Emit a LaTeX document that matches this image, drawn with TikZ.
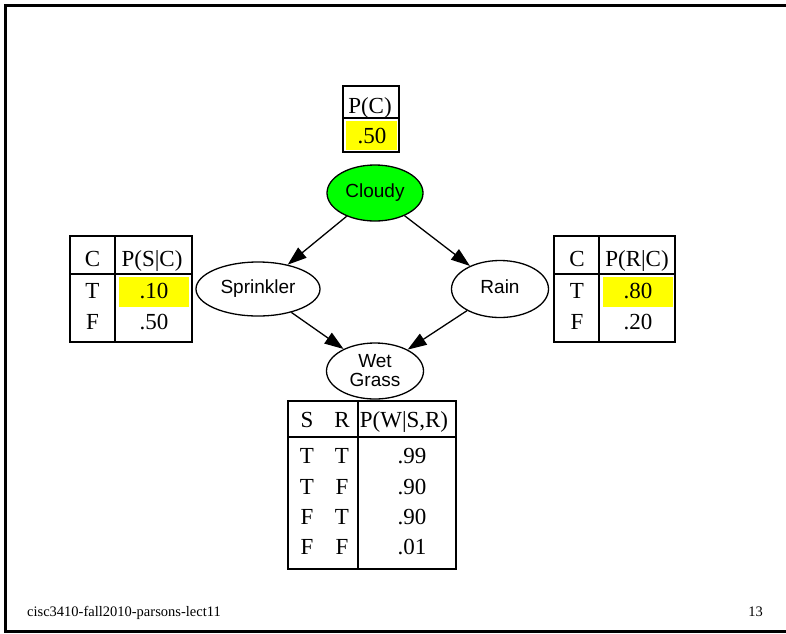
\documentclass[tikz,border=0pt]{standalone}
\usepackage{fontspec}
\setmainfont{Liberation Serif}
\newfontfamily\sansf{Liberation Sans}
\usetikzlibrary{arrows.meta,shapes.geometric}
\definecolor{cellyellow}{RGB}{255,255,0}
\definecolor{nodegreen}{RGB}{0,255,0}
\begin{document}
\begin{tikzpicture}[x=1pt,y=-1pt,
  bnode/.style={ellipse, draw, line width=1.3pt, inner sep=0pt,
    font=\sansf\fontsize{19}{19}\selectfont, text height=13.6pt, text depth=4pt},
  arr/.style={line width=1.3pt, -{Triangle[length=19pt,width=13pt]}},
  tbl/.style={line width=1.5pt},
  cell/.style={anchor=base, inner sep=0pt, font=\fontsize{23}{23}\selectfont},
  yel/.style={fill=cellyellow},
  foot/.style={anchor=base, inner sep=0pt, font=\fontsize{14.5}{14.5}\selectfont}]
\useasboundingbox (0,0) rectangle (786,633);
% frame: its right side lies beyond the page
\begin{scope}
\clip (0,0) rectangle (786,633);
\draw[line width=3pt] (5.5,5.5) rectangle (820,631.5);
\end{scope}

% nodes
\node[bnode, fill=nodegreen, minimum width=96pt, minimum height=56pt] (cloudy) at (375,193) {Cloudy};
\node[bnode, minimum width=124pt, minimum height=54pt] (sprinkler) at (258,289) {Sprinkler};
\node[bnode, minimum width=97pt, minimum height=57pt] (rain) at (500,289) {Rain};
\node[bnode, minimum width=97pt, minimum height=56pt, align=center, text height=, text depth=] (wet) at (375,371) {Wet\\Grass};

% edges
\draw[arr] (cloudy) -- (sprinkler);
\draw[arr] (cloudy) -- (rain);
\draw[arr] (sprinkler) -- (wet);
\draw[arr] (rain) -- (wet);

% P(C) table
\fill[yel] (346,121) rectangle (396.5,149.5);
\draw[tbl] (343,86) rectangle (399,152);
\draw[tbl] (343,118) -- (399,118);
\node[cell] (pch) at (370,113) {P(C)};
\node[cell] (pcv) at (372,143) {.50};

% P(S|C) table
\fill[yel] (119,277) rectangle (189,307);
\draw[tbl] (70,236) rectangle (192,342);
\draw[tbl] (115,236) -- (115,342);
\draw[tbl] (70,274) -- (192,274);
\node[cell] (sc1) at (92.5,266) {C};
\node[cell] (sc2) at (152,266) {P(S|C)};
\node[cell] (sc3) at (92.5,298) {T};
\node[cell] (sc4) at (154,298) {.10};
\node[cell] (sc5) at (92.5,329) {F};
\node[cell] (sc6) at (154,329) {.50};

% P(R|C) table
\fill[yel] (603,277) rectangle (672.5,307);
\draw[tbl] (554,236) rectangle (675,342);
\draw[tbl] (599,236) -- (599,342);
\draw[tbl] (554,274) -- (675,274);
\node[cell] (rc1) at (577,266) {C};
\node[cell] (rc2) at (637,266) {P(R|C)};
\node[cell] (rc3) at (577,298) {T};
\node[cell] (rc4) at (638,298) {.80};
\node[cell] (rc5) at (577,329) {F};
\node[cell] (rc6) at (638,329) {.20};

% P(W|S,R) table
\draw[tbl] (288,401) rectangle (456,569);
\draw[tbl] (358,401) -- (358,569);
\draw[tbl] (288,437) -- (456,437);
\node[cell] (w1) at (307,427) {S};
\node[cell] (w2) at (342,427) {R};
\node[cell] (w3) at (404,427) {P(W|S,R)};
\node[cell] (w4) at (307,463) {T};
\node[cell] (w5) at (342,463) {T};
\node[cell] (w6) at (412,463) {.99};
\node[cell] (w7) at (307,494) {T};
\node[cell] (w8) at (342,494) {F};
\node[cell] (w9) at (412,494) {.90};
\node[cell] (w10) at (307,524) {F};
\node[cell] (w11) at (342,524) {T};
\node[cell] (w12) at (412,524) {.90};
\node[cell] (w13) at (307,554) {F};
\node[cell] (w14) at (342,554) {F};
\node[cell] (w15) at (412,554) {.01};

% footer
\node[foot, anchor=base west] (ft) at (27,616) {cisc3410-fall2010-parsons-lect11};
\node[foot, anchor=base east] (pg) at (763,616) {13};
\end{tikzpicture}
\end{document}
